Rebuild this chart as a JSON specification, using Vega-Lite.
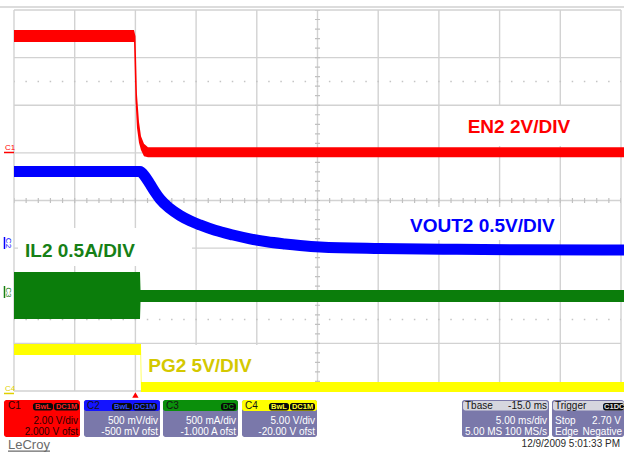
{
 "$schema": "https://vega.github.io/schema/vega-lite/v6.json",
 "width": 624, "height": 452,
 "autosize": {"type": "fit", "contains": "padding"},
 "padding": 0,
 "background": "#ffffff",
 "config": {"font": "Liberation Sans", "view": {"stroke": null}},
 "encoding": {
  "x": {"field": "t", "type": "quantitative", "scale": {"domain": [-11.153, 40.247], "nice": false, "zero": false}, "axis": null},
  "y": {"field": "v", "type": "quantitative", "scale": {"domain": [-5.281, 4.21], "nice": false, "zero": false}, "axis": null}
 },
 "resolve": {"scale": {"color": "independent"}},
 "layer": [
  {"data": {"values": [{"t": -11.153, "t2": 40.247, "v": 4.063}]}, "mark": {"type": "rule", "color": "#d0d0d0", "strokeWidth": 1.5, "clip": true},
   "encoding": {"x2": {"field": "t2"}}},
  {"data": {"values": [
    {"t": -10, "v": -4, "v2": 4}, {"t": -5, "v": -4, "v2": 4}, {"t": 0, "v": -4, "v2": 4}, {"t": 5, "v": -4, "v2": 4},
    {"t": 10, "v": -4, "v2": 4}, {"t": 15, "v": -4, "v2": 4}, {"t": 20, "v": -4, "v2": 4}, {"t": 25, "v": -4, "v2": 4},
    {"t": 30, "v": -4, "v2": 4}, {"t": 35, "v": -4, "v2": 4}, {"t": 40, "v": -4, "v2": 4}]},
   "mark": {"type": "rule", "color": "#d2d2d2", "strokeWidth": 1.4, "clip": true},
   "encoding": {"y2": {"field": "v2"}}},
  {"data": {"values": [
    {"v": -4, "t": -10, "t2": 40}, {"v": -3, "t": -10, "t2": 40}, {"v": -2, "t": -10, "t2": 40}, {"v": -1, "t": -10, "t2": 40},
    {"v": 0, "t": -10, "t2": 40}, {"v": 1, "t": -10, "t2": 40}, {"v": 2, "t": -10, "t2": 40}, {"v": 3, "t": -10, "t2": 40},
    {"v": 4, "t": -10, "t2": 40}]},
   "mark": {"type": "rule", "color": "#d2d2d2", "strokeWidth": 1.4, "clip": true},
   "encoding": {"x2": {"field": "t2"}}},
  {"data": {"values": [{"v": 2.5, "t": -10, "t2": 40}, {"v": -2.5, "t": -10, "t2": 40}]},
   "mark": {"type": "rule", "color": "#c4c4c4", "strokeWidth": 1.5, "strokeDash": [1.5, 10.64], "strokeDashOffset": 0.75, "clip": true},
   "encoding": {"x2": {"field": "t2"}}},
  {"data": {"values": [{"v": 0, "t": -10, "t2": 40}]},
   "mark": {"type": "rule", "color": "#c0c0c0", "strokeWidth": 5, "strokeDash": [1.2, 10.94], "strokeDashOffset": 0.6, "clip": true},
   "encoding": {"x2": {"field": "t2"}}},
  {"data": {"values": [{"t": 15, "v": -4, "v2": 4}]},
   "mark": {"type": "rule", "color": "#c0c0c0", "strokeWidth": 5, "strokeDash": [1.2, 8.325], "strokeDashOffset": 0.6, "clip": true},
   "encoding": {"y2": {"field": "v2"}}},
  {"data": {"values": [
    {"t": 26.738, "t2": 39.753, "v": 1.984, "v2": 1.144},
    {"t": 21.796, "t2": 34.975, "v": -0.137, "v2": -0.829},
    {"t": -9.67, "t2": 4.662, "v": -0.577, "v2": -1.375},
    {"t": 0.626, "t2": 10.099, "v": -3.034, "v2": -3.832}]},
   "mark": {"type": "rect", "color": "#ffffff", "clip": true},
   "encoding": {"x2": {"field": "t2"}, "y2": {"field": "v2"}}},
  {"data": {"values": [
    {"t": 27.37, "v": 1.411, "label": "EN2 2V/DIV", "ch": "EN2"},
    {"t": 22.62, "v": -0.655, "label": "VOUT2 0.5V/DIV", "ch": "VOUT2"},
    {"t": -9.094, "v": -1.18, "label": "IL2 0.5A/DIV", "ch": "IL2"},
    {"t": 1.063, "v": -3.595, "label": "PG2 5V/DIV", "ch": "PG2"}]},
   "mark": {"type": "text", "align": "left", "baseline": "alphabetic", "fontSize": 19, "fontWeight": "bold", "clip": true},
   "encoding": {"text": {"field": "label"},
    "color": {"field": "ch", "type": "nominal", "legend": null, "scale": {"domain": ["EN2", "VOUT2", "IL2", "PG2"], "range": ["#ff0000", "#0000ff", "#168016", "#d4c800"]}}}},
  {"data": {"values": [
    {"t": -10, "v": 3.58, "v2": 3.33}, {"t": -0.115, "v": 3.58, "v2": 3.33}, {"t": 0.008, "v": 3.45, "v2": 2.11},
    {"t": 0.132, "v": 2.22, "v2": 1.52}, {"t": 0.297, "v": 1.65, "v2": 1.21}, {"t": 0.461, "v": 1.35, "v2": 1.06},
    {"t": 0.708, "v": 1.19, "v2": 0.93}, {"t": 1.038, "v": 1.12, "v2": 0.91}, {"t": 40.247, "v": 1.12, "v2": 0.91}]},
   "mark": {"type": "area", "color": "#ff0000", "opacity": 1, "clip": true},
   "encoding": {"y2": {"field": "v2"}}},
  {"data": {"values": [
    {"t": -10, "v": 0.609}, {"t": 0.379, "v": 0.609}, {"t": 0.791, "v": 0.504}, {"t": 1.203, "v": 0.346},
    {"t": 1.614, "v": 0.178}, {"t": 2.026, "v": 0.031}, {"t": 2.85, "v": -0.168}, {"t": 3.674, "v": -0.315},
    {"t": 4.498, "v": -0.426}, {"t": 5.321, "v": -0.514}, {"t": 6.557, "v": -0.626}, {"t": 8.04, "v": -0.724},
    {"t": 9.44, "v": -0.804}, {"t": 10.84, "v": -0.867}, {"t": 12.323, "v": -0.913}, {"t": 13.558, "v": -0.945},
    {"t": 15.206, "v": -0.976}, {"t": 20.148, "v": -1.008}, {"t": 25.914, "v": -1.025}, {"t": 31.68, "v": -1.033},
    {"t": 40.247, "v": -1.039}]},
   "mark": {"type": "line", "color": "#0000ff", "strokeWidth": 11, "strokeCap": "butt", "interpolate": "monotone", "clip": true},
   "encoding": {}},
  {"data": {"values": [
    {"t": -10, "v": -1.5, "v2": -2.49}, {"t": 0.379, "v": -1.5, "v2": -2.49},
    {"t": 0.42, "v": -1.879, "v2": -2.131}, {"t": 40.247, "v": -1.879, "v2": -2.131}]},
   "mark": {"type": "area", "color": "#0b7d0b", "opacity": 1, "clip": true},
   "encoding": {"y2": {"field": "v2"}}},
  {"data": {"values": [
    {"t": -10, "v": -3.013, "v2": -3.244}, {"t": 0.42, "v": -3.013, "v2": -3.244},
    {"t": 0.461, "v": -3.013, "v2": -4.02}, {"t": 0.5, "v": -3.811, "v2": -4.02},
    {"t": 40.247, "v": -3.811, "v2": -4.02}]},
   "mark": {"type": "area", "color": "#ffff00", "opacity": 1, "clip": true},
   "encoding": {"y2": {"field": "v2"}}},
  {"data": {"values": [{"t": 0, "v": -4.084}]},
   "mark": {"type": "point", "shape": "triangle-up", "filled": true, "color": "#ff0000", "size": 40, "opacity": 1, "clip": true},
   "encoding": {}},
  {"data": {"values": [
    {"t": -10.824, "t2": -4.563, "v": -4.189, "v2": -4.966, "k": "C1"},
    {"t": -4.234, "t2": 2.026, "v": -4.189, "v2": -4.966, "k": "body"},
    {"t": -4.234, "t2": 2.026, "v": -4.189, "v2": -4.42, "k": "C2"},
    {"t": 2.273, "t2": 8.451, "v": -4.189, "v2": -4.966, "k": "body"},
    {"t": 2.273, "t2": 8.451, "v": -4.189, "v2": -4.42, "k": "C3"},
    {"t": 8.781, "t2": 14.959, "v": -4.189, "v2": -4.966, "k": "body"},
    {"t": 8.781, "t2": 14.959, "v": -4.189, "v2": -4.42, "k": "C4"},
    {"t": 26.903, "t2": 34.069, "v": -4.189, "v2": -4.966, "k": "body"},
    {"t": 26.99, "t2": 33.98, "v": -4.21, "v2": -4.41, "k": "hdr"},
    {"t": 34.316, "t2": 40.247, "v": -4.189, "v2": -4.966, "k": "body"},
    {"t": 34.4, "t2": 40.247, "v": -4.21, "v2": -4.41, "k": "hdr"},
    {"t": -8.435, "t2": -6.788, "v": -4.252, "v2": -4.409, "k": "badge"},
    {"t": -6.705, "t2": -4.646, "v": -4.252, "v2": -4.409, "k": "badge"},
    {"t": -1.928, "t2": -0.28, "v": -4.252, "v2": -4.409, "k": "badge"},
    {"t": -0.198, "t2": 1.779, "v": -4.252, "v2": -4.409, "k": "badge"},
    {"t": 7.051, "t2": 8.287, "v": -4.252, "v2": -4.409, "k": "badge"},
    {"t": 11.005, "t2": 12.653, "v": -4.252, "v2": -4.409, "k": "badge"},
    {"t": 12.735, "t2": 14.794, "v": -4.252, "v2": -4.409, "k": "badge"},
    {"t": 38.52, "t2": 40.247, "v": -4.252, "v2": -4.409, "k": "badge"}]},
   "mark": {"type": "rect", "cornerRadius": 2.5, "clip": true},
   "encoding": {"x2": {"field": "t2"}, "y2": {"field": "v2"},
    "color": {"field": "k", "type": "nominal", "legend": null, "scale": {"domain": ["C1", "C2", "C3", "C4", "hdr", "body", "badge"], "range": ["#ff0000", "#1414ff", "#0b8f0b", "#ffff00", "#d6d6de", "#7a78aa", "#0a0a0a"]}}}},
  {"data": {"values": [
    {"t": -7.61, "v": -4.384, "label": "BwL", "k": "r"}, {"t": -5.675, "v": -4.384, "label": "DC1M", "k": "r"},
    {"t": -1.104, "v": -4.384, "label": "BwL", "k": "b"}, {"t": 0.79, "v": -4.384, "label": "DC1M", "k": "b"},
    {"t": 7.669, "v": -4.384, "label": "DC", "k": "g"},
    {"t": 11.829, "v": -4.384, "label": "BwL", "k": "y"}, {"t": 13.765, "v": -4.384, "label": "DC1M", "k": "y"},
    {"t": 39.45, "v": -4.384, "label": "C1DC", "k": "w"}]},
   "mark": {"type": "text", "align": "center", "baseline": "alphabetic", "fontSize": 7.5, "fontWeight": "bold", "clip": true},
   "encoding": {"text": {"field": "label"},
    "color": {"field": "k", "type": "nominal", "legend": null, "scale": {"domain": ["r", "b", "g", "y", "w"], "range": ["#ff2020", "#3050ff", "#10a010", "#ffff30", "#e0e0e0"]}}}},
  {"data": {"values": [
    {"t": -10.494, "v": -4.388, "label": "C1", "k": "onred"},
    {"t": -3.987, "v": -4.388, "label": "C2", "k": "dark"},
    {"t": 2.521, "v": -4.388, "label": "C3", "k": "dark"},
    {"t": 9.028, "v": -4.388, "label": "C4", "k": "dark"},
    {"t": 27.15, "v": -4.388, "label": "Tbase", "k": "dark"},
    {"t": 27.15, "v": -4.924, "label": "5.00 MS", "k": "white"},
    {"t": 34.563, "v": -4.388, "label": "Trigger", "k": "dark"},
    {"t": 34.563, "v": -4.703, "label": "Stop", "k": "white"},
    {"t": 34.563, "v": -4.924, "label": "Edge", "k": "white"}]},
   "mark": {"type": "text", "align": "left", "baseline": "alphabetic", "fontSize": 10, "clip": true},
   "encoding": {"text": {"field": "label"},
    "color": {"field": "k", "type": "nominal", "legend": null, "scale": {"domain": ["onred", "dark", "white"], "range": ["#2a0000", "#141414", "#ffffff"]}}}},
  {"data": {"values": [{"t": -10.494, "v": -5.218, "label": "LeCroy"}]},
   "mark": {"type": "text", "align": "left", "baseline": "alphabetic", "fontSize": 13, "color": "#6a6a6a", "clip": true},
   "encoding": {"text": {"field": "label"}}},
  {"data": {"values": [
    {"t": -4.728, "v": -4.703, "label": "2.00 V/div", "k": "onred"},
    {"t": -4.728, "v": -4.924, "label": "2.000 V ofst", "k": "onred"},
    {"t": 1.862, "v": -4.703, "label": "500 mV/div", "k": "white"},
    {"t": 1.862, "v": -4.924, "label": "-500 mV ofst", "k": "white"},
    {"t": 8.287, "v": -4.703, "label": "500 mA/div", "k": "white"},
    {"t": 8.287, "v": -4.924, "label": "-1.000 A ofst", "k": "white"},
    {"t": 14.794, "v": -4.703, "label": "5.00 V/div", "k": "white"},
    {"t": 14.794, "v": -4.924, "label": "-20.00 V ofst", "k": "white"},
    {"t": 33.905, "v": -4.388, "label": "-15.0 ms", "k": "dark"},
    {"t": 33.905, "v": -4.703, "label": "5.00 ms/div", "k": "white"},
    {"t": 33.905, "v": -4.924, "label": "100 MS/s", "k": "white"},
    {"t": 40.0, "v": -4.703, "label": "2.70 V", "k": "white"},
    {"t": 40.08, "v": -4.924, "label": "Negative", "k": "white"},
    {"t": 39.918, "v": -5.176, "label": "12/9/2009 5:01:33 PM", "k": "ink"}]},
   "mark": {"type": "text", "align": "right", "baseline": "alphabetic", "fontSize": 10, "clip": true},
   "encoding": {"text": {"field": "label"},
    "color": {"field": "k", "type": "nominal", "legend": null, "scale": {"domain": ["onred", "dark", "white", "ink"], "range": ["#2a0000", "#141414", "#ffffff", "#2a2a2a"]}}}},
  {"data": {"values": [{"t": -10.494, "t2": -7.035, "v": -5.262}]},
   "mark": {"type": "rule", "color": "#6a6a6a", "strokeWidth": 1.2, "clip": true},
   "encoding": {"x2": {"field": "t2"}}},
  {"data": {"values": [
    {"t": -10.741, "v": 1.06, "label": "C1", "ch": "C1"},
    {"t": -10.741, "v": -4.0, "label": "C4", "ch": "C4"}]},
   "mark": {"type": "text", "align": "left", "baseline": "alphabetic", "fontSize": 8, "clip": true},
   "encoding": {"text": {"field": "label"},
    "color": {"field": "ch", "type": "nominal", "legend": null, "scale": {"domain": ["C1", "C4"], "range": ["#ff0000", "#e0d000"]}}}},
  {"data": {"values": [
    {"t": -10.535, "v": -0.892, "label": "C2", "ch": "C2"},
    {"t": -10.535, "v": -1.927, "label": "C3", "ch": "C3"}]},
   "mark": {"type": "text", "align": "center", "baseline": "middle", "fontSize": 8, "angle": 90, "clip": true},
   "encoding": {"text": {"field": "label"},
    "color": {"field": "ch", "type": "nominal", "legend": null, "scale": {"domain": ["C2", "C3"], "range": ["#0000ff", "#168016"]}}}},
  {"data": {"values": [
    {"t": -10.824, "t2": -10.0, "v": 1.008, "ch": "C1"},
    {"t": -10.824, "t2": -10.0, "v": -4.052, "ch": "C4"}]},
   "mark": {"type": "rule", "strokeWidth": 1.5, "clip": true},
   "encoding": {"x2": {"field": "t2"},
    "color": {"field": "ch", "type": "nominal", "legend": null, "scale": {"domain": ["C1", "C4"], "range": ["#ff0000", "#e0d000"]}}}},
  {"data": {"values": [
    {"t": -10.783, "v": -0.766, "v2": -1.018, "ch": "C2"},
    {"t": -10.783, "v": -1.795, "v2": -2.047, "ch": "C3"}]},
   "mark": {"type": "rule", "strokeWidth": 1.5, "clip": true},
   "encoding": {"y2": {"field": "v2"},
    "color": {"field": "ch", "type": "nominal", "legend": null, "scale": {"domain": ["C2", "C3"], "range": ["#0000ff", "#168016"]}}}}
 ]
}
